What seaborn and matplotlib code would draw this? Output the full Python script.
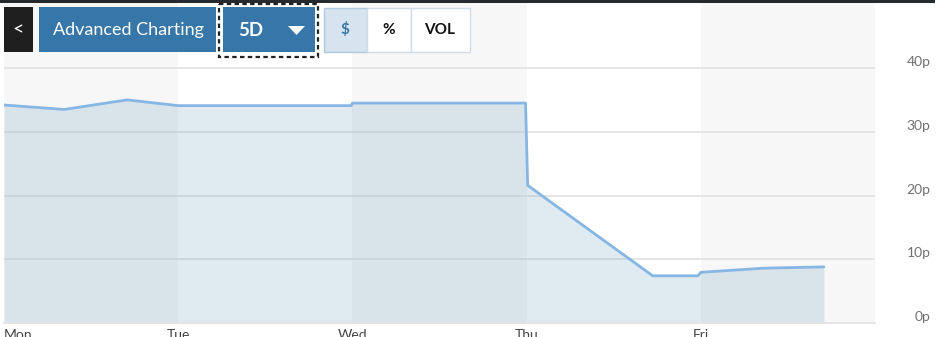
import matplotlib
matplotlib.use("Agg")
import matplotlib.pyplot as plt
from matplotlib.patches import Rectangle, Polygon
import seaborn as sns
import pandas as pd

sns.set_style("white")
plt.rcParams['font.family'] = ['Lato', 'DejaVu Sans']

# ---- data (x in trading days from Monday open) ----
day_pos = [0.0, 0.345, 0.707, 1.0, 1.994, 2.0, 2.994, 3.006, 3.724, 3.983, 4.0, 4.36, 4.707]
price_p = [34.2, 33.5, 35.0, 34.1, 34.1, 34.5, 34.5, 21.6, 7.4, 7.4, 7.95, 8.6, 8.8]
day_labels = ["Mon", "Tue", "Wed", "Thu", "Fri"]
y_ticks = [0, 10, 20, 30, 40]
y_labels = ["0p", "10p", "20p", "30p", "40p"]

df = pd.DataFrame({"day": day_pos, "price": price_p})

W, H = 940, 337
fig = plt.figure(figsize=(W / 100, H / 100), dpi=100)
fig.patch.set_facecolor("white")

ax = fig.add_axes([4 / W, (H - 323) / H, (875 - 4) / W, (323 - 3) / H])
ax.set_facecolor("white")

# alternating day bands
for i in range(len(day_labels)):
    if i % 2 == 0:
        ax.axvspan(i, i + 1, color="#f7f7f7", zorder=0, lw=0)

for t in y_ticks[1:]:
    ax.axhline(t, color="#e2e2e2", lw=1.2, zorder=1)

ax.fill_between(df["day"], df["price"], 0, color="#649bb9", alpha=0.2, lw=0, zorder=2)
sns.lineplot(data=df, x="day", y="price", ax=ax, color="#86b6e4", lw=2, zorder=3,
             estimator=None, sort=False)

ax.set_xlim(0, 5)
ax.set_ylim(0, 50.2)
ax.set_xlabel("")
ax.set_ylabel("")

for s in ["top", "left", "right"]:
    ax.spines[s].set_visible(False)
ax.spines["bottom"].set_color("#e2e2e2")
ax.spines["bottom"].set_linewidth(1.2)

ax.set_xticks(range(len(day_labels)))
ax.set_xticklabels(day_labels, fontsize=10, color="#444444")
ax.tick_params(axis="x", length=3, width=1, color="#c5d6e6", pad=1.5)
ax.get_xticklabels()[0].set_horizontalalignment("left")

ax.yaxis.tick_right()
ax.set_yticks(y_ticks)
ax.set_yticklabels(y_labels, fontsize=10, color="#707070")
ax.tick_params(axis="y", length=0, pad=40)
for lab in ax.get_yticklabels():
    lab.set_horizontalalignment("right")
    lab.set_verticalalignment("bottom")

# ---- overlay toolbar (pixel coords) ----
ov = fig.add_axes([0, 0, 1, 1], zorder=10)
ov.set_xlim(0, W)
ov.set_ylim(H, 0)
ov.axis("off")
ov.patch.set_alpha(0)

ov.add_patch(Rectangle((0, 0), 935, 3, color="#26292e", lw=0))

ov.add_patch(Rectangle((4, 7), 29, 45, color="#1f1f1f", lw=0))
ov.text(18.5, 29.5, "<", color="white", fontsize=14, ha="center", va="center")

ov.add_patch(Rectangle((39, 7), 177, 45, color="#3776a8", lw=0))
ov.text(128.5, 29.5, "Advanced Charting", color="white", fontsize=13, ha="center", va="center")

ov.add_patch(Rectangle((219, 3.5), 99, 53, facecolor="white", edgecolor="#222222", lw=1.6,
                       linestyle=(0, (2, 1.5))))
ov.add_patch(Rectangle((223, 7), 92, 45, color="#3776a8", lw=0))
ov.text(251, 30, "5D", color="white", fontsize=13.5, fontweight="bold", ha="center", va="center")
ov.add_patch(Polygon([(288, 26), (305, 26), (296.5, 35)], closed=True, color="white", lw=0))

ov.add_patch(Rectangle((323.5, 7.5), 43.5, 44, facecolor="#d6e4ef", edgecolor="#b0c9de", lw=1))
ov.text(345, 29.5, "$", color="#3a78a8", fontsize=11, fontweight="bold", ha="center", va="center")
ov.add_patch(Rectangle((367, 7.5), 43.5, 44, facecolor="white", edgecolor="#cfdde9", lw=1))
ov.text(388.5, 29.5, "%", color="#111111", fontsize=11, fontweight="bold", ha="center", va="center")
ov.add_patch(Rectangle((410.5, 7.5), 59.5, 44, facecolor="white", edgecolor="#cfdde9", lw=1))
ov.text(440, 29.5, "VOL", color="#111111", fontsize=11, fontweight="bold", ha="center", va="center")

fig.savefig("out.png", dpi=100)
